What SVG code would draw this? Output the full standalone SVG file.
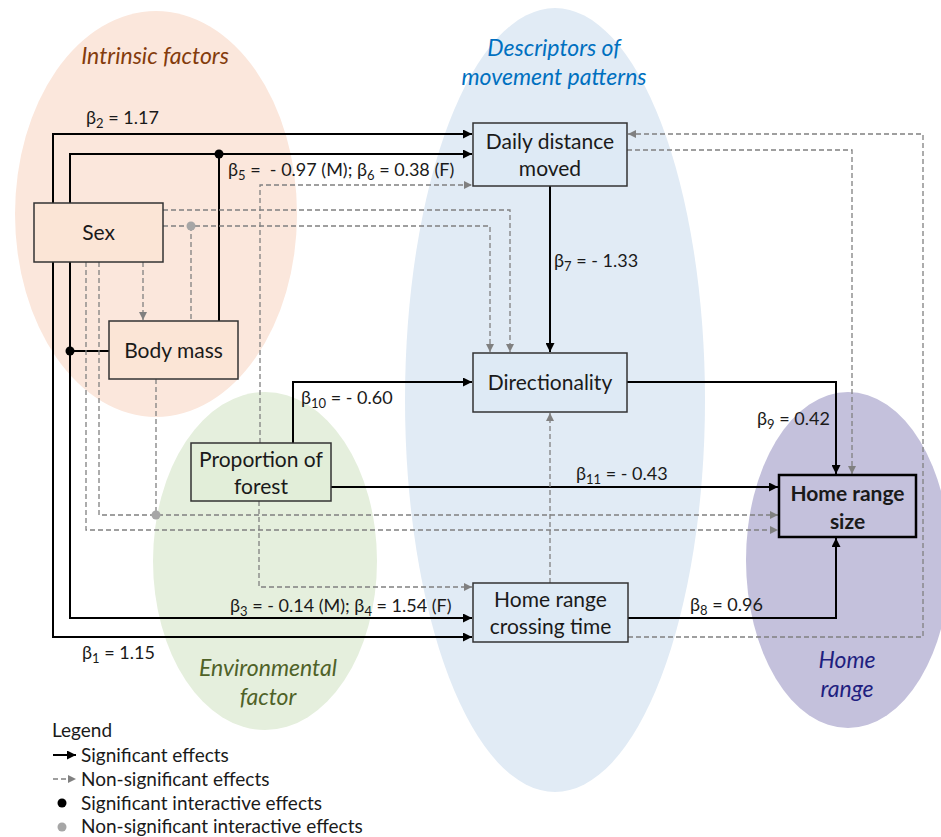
<svg xmlns="http://www.w3.org/2000/svg" width="941" height="837" viewBox="0 0 941 837">
<defs>
<marker id="ab" viewBox="0 0 10 10" refX="10" refY="5" markerWidth="11" markerHeight="9" markerUnits="userSpaceOnUse" orient="auto"><path d="M0,0 L10,5 L0,10 z" fill="#000"/></marker>
<marker id="ag" viewBox="0 0 10 10" refX="10" refY="5" markerWidth="10" markerHeight="8" markerUnits="userSpaceOnUse" orient="auto"><path d="M0,0 L10,5 L0,10 z" fill="#808080"/></marker>
<style>
text{font-family:Lato,"Liberation Sans",sans-serif;fill:#1a1a1a}
.node rect{stroke:#333;stroke-width:1.5}
.nt{font-size:21px;text-anchor:middle}
.lb{font-size:18px;white-space:pre}
.sub{font-size:13px}
.sig{fill:none;stroke:#000;stroke-width:2}
.ns{fill:none;stroke:#808080;stroke-width:1.3;stroke-dasharray:5 3}
.ti{font-size:23px;font-style:italic;text-anchor:middle}
.lg{font-size:19px}
</style>
</defs>
<g id="regions">
<ellipse cx="156" cy="214" rx="141" ry="203" fill="#fbe7dc"/>
<ellipse cx="265" cy="561" rx="112" ry="169" fill="#e5efdd"/>
<ellipse cx="555" cy="400" rx="150" ry="392" fill="#e1ebf5"/>
<ellipse cx="848" cy="560" rx="102" ry="168" fill="#c4c1dc"/>
<text class="ti" x="155" y="64" style="fill:#843c0c">Intrinsic factors</text>
<text class="ti" x="554" y="56" style="fill:#0070c0">Descriptors of</text>
<text class="ti" x="554" y="85" style="fill:#0070c0">movement patterns</text>
<text class="ti" x="268" y="676" style="fill:#4f6228">Environmental</text>
<text class="ti" x="268" y="705" style="fill:#4f6228">factor</text>
<text class="ti" x="847" y="668" style="fill:#1f1f80">Home</text>
<text class="ti" x="847" y="697" style="fill:#1f1f80">range</text>
</g>
<g id="connectors">
<path class="sig" d="M53,203 V134 H472" marker-end="url(#ab)"/>
<path class="sig" d="M70,203 V154 H472" marker-end="url(#ab)"/>
<path class="sig" d="M219,321 V154"/>
<path class="sig" d="M53,262 V637 H472" marker-end="url(#ab)"/>
<path class="sig" d="M70,262 V618 H472" marker-end="url(#ab)"/>
<path class="sig" d="M70,351 H109"/>
<path class="sig" d="M550,186 V352" marker-end="url(#ab)"/>
<path class="sig" d="M293,443 V382 H472" marker-end="url(#ab)"/>
<path class="sig" d="M627,382 H836 V474" marker-end="url(#ab)"/>
<path class="sig" d="M331,487 H778" marker-end="url(#ab)"/>
<path class="sig" d="M628,618 H836 V538" marker-end="url(#ab)"/>
<path class="ns" d="M163,210 H510 V352" marker-end="url(#ag)"/>
<path class="ns" d="M163,226 H490 V352" marker-end="url(#ag)"/>
<path class="ns" d="M191,226 V321"/>
<path class="ns" d="M143,262 V320" marker-end="url(#ag)"/>
<path class="ns" d="M86,262 V530 H778" marker-end="url(#ag)"/>
<path class="ns" d="M99,262 V515 H778" marker-end="url(#ag)"/>
<path class="ns" d="M156,379 V515"/>
<path class="ns" d="M259,501 V587 H472" marker-end="url(#ag)"/>
<path class="ns" d="M260,443 V185 H472" marker-end="url(#ag)"/>
<path class="ns" d="M550,583 V413" marker-end="url(#ag)"/>
<path class="ns" d="M628,637 H923 V134 H628" marker-end="url(#ag)"/>
<path class="ns" d="M627,150 H852 V474" marker-end="url(#ag)"/>
<circle cx="219" cy="154" r="4.5" fill="#000"/>
<circle cx="70" cy="351" r="4.5" fill="#000"/>
<circle cx="191" cy="226" r="4.5" fill="#a6a6a6"/>
<circle cx="156" cy="515" r="4.5" fill="#a6a6a6"/>
</g>
<g id="labels">
<text class="lb" x="86" y="124">β<tspan class="sub" dy="4">2</tspan><tspan dy="-4"> = 1.17</tspan></text>
<text class="lb" x="228" y="176">β<tspan class="sub" dy="4">5</tspan><tspan dy="-4"> =  - 0.97 (M); β</tspan><tspan class="sub" dy="4">6</tspan><tspan dy="-4"> = 0.38 (F)</tspan></text>
<text class="lb" x="554" y="267">β<tspan class="sub" dy="4">7</tspan><tspan dy="-4"> = - 1.33</tspan></text>
<text class="lb" x="301" y="404">β<tspan class="sub" dy="4">10</tspan><tspan dy="-4"> = - 0.60</tspan></text>
<text class="lb" x="757" y="425">β<tspan class="sub" dy="4">9</tspan><tspan dy="-4"> = 0.42</tspan></text>
<text class="lb" x="576" y="480">β<tspan class="sub" dy="4">11</tspan><tspan dy="-4"> = - 0.43</tspan></text>
<text class="lb" x="690" y="611">β<tspan class="sub" dy="4">8</tspan><tspan dy="-4"> = 0.96</tspan></text>
<text class="lb" x="230" y="612">β<tspan class="sub" dy="4">3</tspan><tspan dy="-4"> = - 0.14 (M); β</tspan><tspan class="sub" dy="4">4</tspan><tspan dy="-4"> = 1.54 (F)</tspan></text>
<text class="lb" x="82" y="659">β<tspan class="sub" dy="4">1</tspan><tspan dy="-4"> = 1.15</tspan></text>
</g>
<g id="sex" class="node"><rect x="34" y="203" width="129" height="59" fill="#fbe5d6"/><text class="nt" x="98.5" y="240">Sex</text></g>
<g id="body-mass" class="node"><rect x="109" y="321" width="129" height="58" fill="#fbe5d6"/><text class="nt" x="173.5" y="358">Body mass</text></g>
<g id="daily-distance" class="node"><rect x="473" y="123" width="154" height="63" fill="#deeaf5"/><text class="nt" x="550" y="149">Daily distance</text><text class="nt" x="550" y="176">moved</text></g>
<g id="directionality" class="node"><rect x="473" y="353" width="154" height="59" fill="#deeaf5"/><text class="nt" x="550" y="390">Directionality</text></g>
<g id="proportion-forest" class="node"><rect x="191" y="443" width="140" height="58" fill="#e2eed9"/><text class="nt" x="261" y="467">Proportion of</text><text class="nt" x="261" y="494">forest</text></g>
<g id="crossing-time" class="node"><rect x="473" y="583" width="155" height="59" fill="#deeaf5"/><text class="nt" x="550.5" y="607">Home range</text><text class="nt" x="550.5" y="634">crossing time</text></g>
<g id="home-range-size" class="node"><rect x="779" y="475" width="137" height="62" fill="#c4c1dc" style="stroke:#000;stroke-width:2.5"/><text class="nt" x="847.5" y="501" font-weight="bold">Home range</text><text class="nt" x="847.5" y="529" font-weight="bold">size</text></g>
<g id="legend">
<text class="lg" x="52" y="737">Legend</text>
<path class="sig" d="M53,755 H76" marker-end="url(#ab)"/>
<text class="lg" x="81" y="762">Significant effects</text>
<path class="ns" d="M53,779 H76" marker-end="url(#ag)"/>
<text class="lg" x="81" y="786">Non-significant effects</text>
<circle cx="62" cy="803" r="4.5" fill="#000"/>
<text class="lg" x="81" y="810">Significant interactive effects</text>
<circle cx="62" cy="827" r="4.5" fill="#a6a6a6"/>
<text class="lg" x="81" y="833">Non-significant interactive effects</text>
</g>
</svg>
